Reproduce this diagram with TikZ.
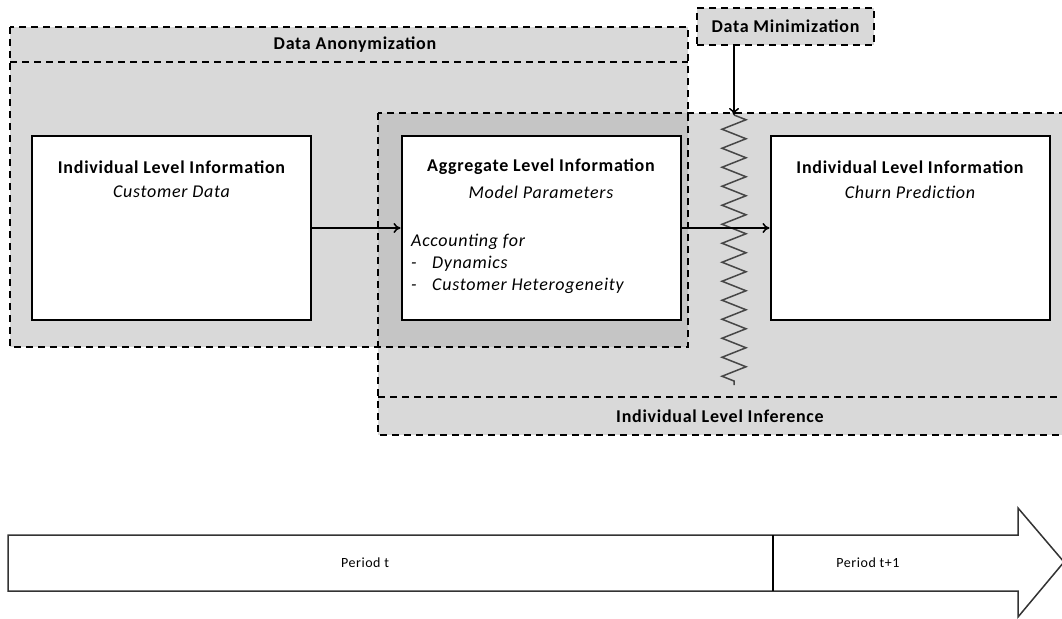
\documentclass[tikz,border=0pt]{standalone}
\usepackage{fontspec}
\setmainfont{Carlito}[LetterSpace=4]
\usetikzlibrary{arrows.meta,decorations.pathmorphing,positioning}

\definecolor{grpgray}{RGB}{217,217,217}
\definecolor{ovlgray}{RGB}{197,197,197}
\definecolor{zzgray}{RGB}{70,70,70}

\tikzset{
	grpline/.style={line width=1.8pt, dash pattern=on 7pt off 5pt},
	infobox/.style={draw=black, line width=2pt, fill=white, minimum width=279pt, minimum height=184pt, inner sep=0pt},
	minbox/.style={draw=black, grpline, fill=grpgray, minimum width=177pt, minimum height=37pt, inner sep=0pt},
	boldtxt/.style={font=\fontsize{18}{22}\selectfont\bfseries, inner sep=1pt},
	itxt/.style={font=\fontsize{18}{22}\selectfont\itshape, inner sep=1pt},
	periodtxt/.style={font=\fontsize{14}{17}\selectfont, inner sep=1pt},
	flow/.style={-{To[length=7pt,width=10pt]}, line width=1.5pt},
	zz/.style={zzgray, line width=1.5pt, decorate, decoration={zigzag, segment length=19pt, amplitude=12pt}}
}

\begin{document}
\begin{tikzpicture}[x=1pt, y=-1pt]
	\useasboundingbox (0,0) rectangle (1062,618);
	
	% Parameters
	\def\offT{32} % title below box top
	\def\offI{57} % subtitle below box top
	
	% -----------------------------
	% Groups (fills first, then borders)
	% -----------------------------
	\fill[grpgray] (10,27) rectangle (688,347);
	\fill[grpgray] (378,113) rectangle (1066,435);
	\fill[ovlgray] (378,113) rectangle (688,347);
	
	\draw[grpline] (10,27) rectangle (688,347);
	\draw[grpline] (10,62) -- (688,62);
	\draw[grpline] (378,113) rectangle (1066,435);
	\draw[grpline] (378,397) -- (1066,397);
	
	\node[boldtxt] (anon) at (355,45) {Data Anonymization};
	\node[boldtxt] (infer) at (720,416) {Individual Level Inference};
	\node[minbox, font=\fontsize{18}{22}\selectfont\bfseries] (dmin) at (785.5,26.5) {Data Minimization};
	
	% -----------------------------
	% Information boxes
	% -----------------------------
	\node[infobox] (cust) at (171.5,228) {};
	\node[infobox] (agg) at (541,228) {};
	\node[infobox] (churn) at (910,228) {};
	
	\node[boldtxt] (custT) at ([yshift=-\offT pt]cust.north) {Individual Level Information};
	\node[itxt] (custS) at ([yshift=-\offI pt]cust.north) {Customer Data};
	
	\node[boldtxt] (aggT) at ([yshift=-\offT pt]agg.north) {Aggregate Level Information};
	\node[itxt] (aggS) at ([yshift=-\offI pt]agg.north) {Model Parameters};
	\node[itxt, anchor=base west] (aggL1) at (410,246) {Accounting for};
	\node[itxt, anchor=base west] (aggL2) at (410,268) {\makebox[21pt][l]{-}Dynamics};
	\node[itxt, anchor=base west] (aggL3) at (410,290) {\makebox[21pt][l]{-}Customer Heterogeneity};
	
	\node[boldtxt] (churnT) at ([yshift=-\offT pt]churn.north) {Individual Level Information};
	\node[itxt] (churnS) at ([yshift=-\offI pt]churn.north) {Churn Prediction};
	
	% Zigzag (data minimization cut)
	\coordinate (zzTop) at (734,115);
	\coordinate (zzBot) at (734,385);
	\draw[zz] (zzTop) -- (zzBot);
	
	% Arrows
	\draw[flow] (dmin.south -| zzTop) -- (zzTop);
	\draw[flow] (cust.east) -- (agg.west);
	\draw[flow] (agg.east) -- (churn.west);
	
	% -----------------------------
	% Time line
	% -----------------------------
	\draw[line width=1.5pt, draw=black!80, fill=white] (8,535) -- (1018,535) -- (1018,508) -- (1064,562)
		-- (1018,617) -- (1018,591) -- (8,591) -- cycle;
	\draw[line width=1.2pt] (773,535) -- (773,591);
	\node[periodtxt] (pt) at (365,563) {Period t};
	\node[periodtxt] (pt1) at (868,563) {Period t+1};
	
\end{tikzpicture}
\end{document}
